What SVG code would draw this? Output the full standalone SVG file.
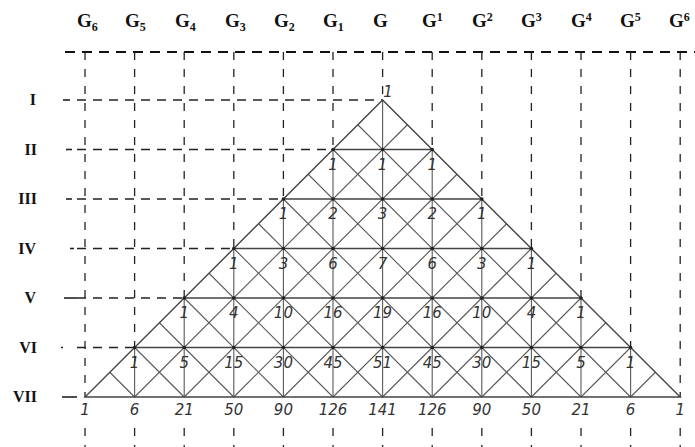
<svg xmlns="http://www.w3.org/2000/svg" width="695" height="447" viewBox="0 0 695 447">
<style>
.bg{fill:#ffffff}
.dash{stroke:#222;stroke-width:1.3;fill:none;stroke-dasharray:9 7}
.top{stroke:#111;stroke-width:1.8;fill:none;stroke-dasharray:10 7}
.vdash{stroke:#222;stroke-width:1.3;fill:none;stroke-dasharray:8 9}
.tick{stroke:#222;stroke-width:1.6}
.edge{stroke:#444;stroke-width:1.4;fill:none}
.diag{stroke:#5a5a5a;stroke-width:1.1;fill:none}
.dot{fill:#222}
.col{font-family:"Liberation Serif",serif;font-weight:bold;font-size:19px;fill:#111}
.sub{font-size:12px}
.row{font-family:"Liberation Serif",serif;font-weight:bold;font-size:16px;fill:#111;text-anchor:end}
.num{font-family:"DejaVu Sans",sans-serif;font-style:italic;font-size:15px;fill:#333;text-anchor:middle}
</style>
<rect class="bg" width="695" height="447"/>
<g id="column-labels">
<text class="col" x="77" y="27">G<tspan class="sub" dy="4">6</tspan></text>
<text class="col" x="125" y="27">G<tspan class="sub" dy="4">5</tspan></text>
<text class="col" x="175" y="27">G<tspan class="sub" dy="4">4</tspan></text>
<text class="col" x="225" y="27">G<tspan class="sub" dy="4">3</tspan></text>
<text class="col" x="274" y="27">G<tspan class="sub" dy="4">2</tspan></text>
<text class="col" x="323" y="27">G<tspan class="sub" dy="4">1</tspan></text>
<text class="col" x="373" y="27">G</text>
<text class="col" x="422" y="27">G<tspan class="sub" dy="-6">1</tspan></text>
<text class="col" x="472" y="27">G<tspan class="sub" dy="-6">2</tspan></text>
<text class="col" x="521" y="27">G<tspan class="sub" dy="-6">3</tspan></text>
<text class="col" x="571" y="27">G<tspan class="sub" dy="-6">4</tspan></text>
<text class="col" x="620" y="27">G<tspan class="sub" dy="-6">5</tspan></text>
<text class="col" x="669" y="27">G<tspan class="sub" dy="-6">6</tspan></text>
</g>
<g id="row-labels">
<text class="row" x="36" y="105">I</text>
<text class="row" x="37" y="155">II</text>
<text class="row" x="37" y="204">III</text>
<text class="row" x="36" y="254">IV</text>
<text class="row" x="36" y="303">V</text>
<text class="row" x="37" y="353">VI</text>
<text class="row" x="37" y="402">VII</text>
<line class="tick" x1="63" y1="100" x2="70" y2="100"/>
<line class="tick" x1="66" y1="149.5" x2="72" y2="149.5"/>
<line class="tick" x1="66" y1="199" x2="72" y2="199"/>
<line class="tick" x1="70" y1="248.5" x2="74" y2="248.5"/>
<line class="tick" x1="64" y1="298" x2="77" y2="298"/>
<line class="tick" x1="61" y1="347.5" x2="63" y2="347.5"/>
<line class="tick" x1="62" y1="397" x2="77" y2="397"/>
</g>
<g id="connectors">
<line class="top" x1="65" y1="52" x2="695" y2="52"/>
<path class="vdash" d="M85,52V397M134.6,52V347.5M184.2,52V298M233.8,52V248.5M283.4,52V199M333,52V149.5M382.6,52V100M432.2,52V149.5M481.8,52V199M531.4,52V248.5M581,52V298M630.6,52V347.5M680.2,52V397"/>
<path class="vdash" d="M85,428V447M134.6,428V447M184.2,428V447M233.8,428V447M283.4,428V447M333,428V447M382.6,428V447M432.2,428V447M481.8,428V447M531.4,428V447M581,428V447M630.6,428V447M680.2,428V447"/>
<path class="dash" d="M77,100H382.6M77,149.5H333M77,199H283.4M77,248.5H233.8M77,298H184.2M77,347.5H134.6"/>
<path class="diag" d="M357.8,124.75L630.6,397M333,149.5L581,397M308.2,174.25L531.4,397M283.4,199L481.8,397M258.6,223.75L432.2,397M233.8,248.5L382.6,397M209,273.25L333,397M184.2,298L283.4,397M159.4,322.75L233.8,397M134.6,347.5L184.2,397M109.8,372.25L134.6,397"/>
<path class="diag" d="M407.4,124.75L134.6,397M432.2,149.5L184.2,397M457,174.25L233.8,397M481.8,199L283.4,397M506.6,223.75L333,397M531.4,248.5L382.6,397M556.2,273.25L432.2,397M581,298L481.8,397M605.8,322.75L531.4,397M630.6,347.5L581,397M655.4,372.25L630.6,397"/>
<path class="diag" d="M134.6,347.5V397M184.2,298V397M233.8,248.5V397M283.4,199V397M333,149.5V397M382.6,100V397M432.2,149.5V397M481.8,199V397M531.4,248.5V397M581,298V397M630.6,347.5V397"/>
<path class="edge" d="M333,149.5H432.2M283.4,199H481.8M233.8,248.5H531.4M184.2,298H581M134.6,347.5H630.6"/>
<path class="edge" d="M382.6,100L85,397H680.2Z"/>
</g>
<g id="nodes">
<g class="dot">
<circle cx="333" cy="149.5" r="1.8"/><circle cx="382.6" cy="149.5" r="1.8"/><circle cx="432.2" cy="149.5" r="1.8"/>
<circle cx="283.4" cy="199" r="1.8"/><circle cx="333" cy="199" r="1.8"/><circle cx="382.6" cy="199" r="1.8"/><circle cx="432.2" cy="199" r="1.8"/><circle cx="481.8" cy="199" r="1.8"/>
<circle cx="233.8" cy="248.5" r="1.8"/><circle cx="283.4" cy="248.5" r="1.8"/><circle cx="333" cy="248.5" r="1.8"/><circle cx="382.6" cy="248.5" r="1.8"/><circle cx="432.2" cy="248.5" r="1.8"/><circle cx="481.8" cy="248.5" r="1.8"/><circle cx="531.4" cy="248.5" r="1.8"/>
<circle cx="184.2" cy="298" r="1.8"/><circle cx="233.8" cy="298" r="1.8"/><circle cx="283.4" cy="298" r="1.8"/><circle cx="333" cy="298" r="1.8"/><circle cx="382.6" cy="298" r="1.8"/><circle cx="432.2" cy="298" r="1.8"/><circle cx="481.8" cy="298" r="1.8"/><circle cx="531.4" cy="298" r="1.8"/><circle cx="581" cy="298" r="1.8"/>
<circle cx="134.6" cy="347.5" r="1.8"/><circle cx="184.2" cy="347.5" r="1.8"/><circle cx="233.8" cy="347.5" r="1.8"/><circle cx="283.4" cy="347.5" r="1.8"/><circle cx="333" cy="347.5" r="1.8"/><circle cx="382.6" cy="347.5" r="1.8"/><circle cx="432.2" cy="347.5" r="1.8"/><circle cx="481.8" cy="347.5" r="1.8"/><circle cx="531.4" cy="347.5" r="1.8"/><circle cx="581" cy="347.5" r="1.8"/><circle cx="630.6" cy="347.5" r="1.8"/>
</g>
<g id="row-I"><text class="num" x="388" y="97">1</text></g>
<g id="row-II">
<text class="num" x="333" y="170">1</text><text class="num" x="382.6" y="170">1</text><text class="num" x="432.2" y="170">1</text>
</g>
<g id="row-III">
<text class="num" x="283.4" y="219">1</text><text class="num" x="333" y="219">2</text><text class="num" x="382.6" y="219">3</text><text class="num" x="432.2" y="219">2</text><text class="num" x="481.8" y="219">1</text>
</g>
<g id="row-IV">
<text class="num" x="233.8" y="268.5">1</text><text class="num" x="283.4" y="268.5">3</text><text class="num" x="333" y="268.5">6</text><text class="num" x="382.6" y="268.5">7</text><text class="num" x="432.2" y="268.5">6</text><text class="num" x="481.8" y="268.5">3</text><text class="num" x="531.4" y="268.5">1</text>
</g>
<g id="row-V">
<text class="num" x="184.2" y="318">1</text><text class="num" x="233.8" y="318">4</text><text class="num" x="283.4" y="318">10</text><text class="num" x="333" y="318">16</text><text class="num" x="382.6" y="318">19</text><text class="num" x="432.2" y="318">16</text><text class="num" x="481.8" y="318">10</text><text class="num" x="531.4" y="318">4</text><text class="num" x="581" y="318">1</text>
</g>
<g id="row-VI">
<text class="num" x="134.6" y="367.5">1</text><text class="num" x="184.2" y="367.5">5</text><text class="num" x="233.8" y="367.5">15</text><text class="num" x="283.4" y="367.5">30</text><text class="num" x="333" y="367.5">45</text><text class="num" x="382.6" y="367.5">51</text><text class="num" x="432.2" y="367.5">45</text><text class="num" x="481.8" y="367.5">30</text><text class="num" x="531.4" y="367.5">15</text><text class="num" x="581" y="367.5">5</text><text class="num" x="630.6" y="367.5">1</text>
</g>
<g id="row-VII">
<text class="num" x="85" y="415">1</text><text class="num" x="134.6" y="415">6</text><text class="num" x="184.2" y="415">21</text><text class="num" x="233.8" y="415">50</text><text class="num" x="283.4" y="415">90</text><text class="num" x="333" y="415">126</text><text class="num" x="382.6" y="415">141</text><text class="num" x="432.2" y="415">126</text><text class="num" x="481.8" y="415">90</text><text class="num" x="531.4" y="415">50</text><text class="num" x="581" y="415">21</text><text class="num" x="630.6" y="415">6</text><text class="num" x="680.2" y="415">1</text>
</g>
</g>
</svg>
